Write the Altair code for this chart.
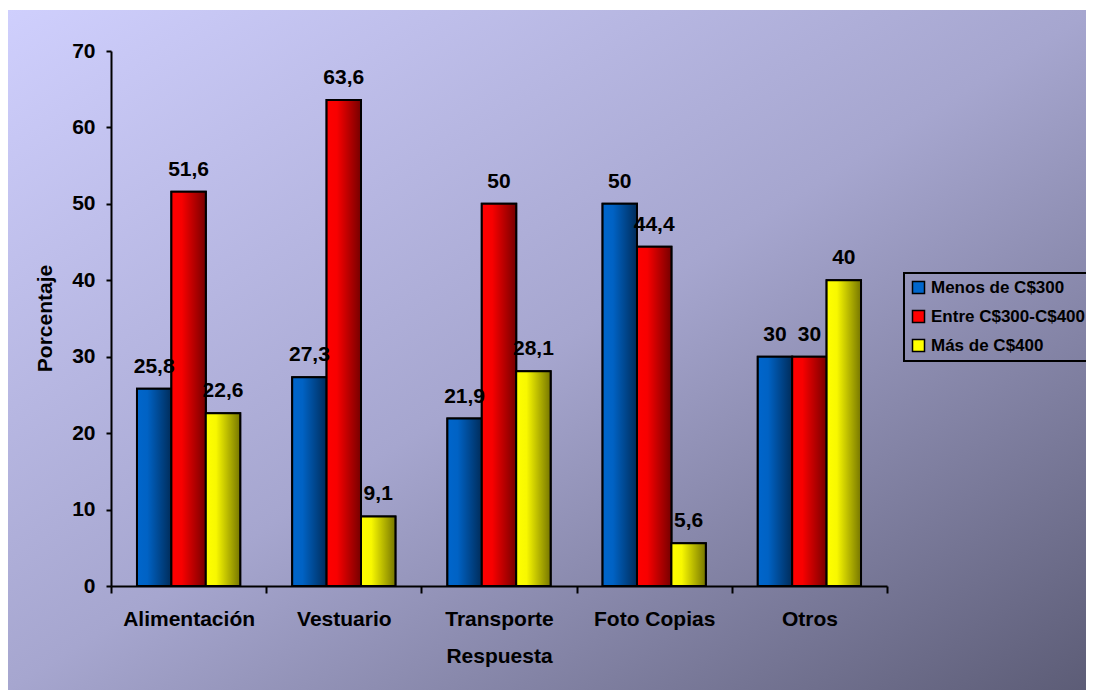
import altair as alt
import pandas as pd

categories = ["Alimentación", "Vestuario", "Transporte", "Foto Copias", "Otros"]
series = ["Menos de C$300", "Entre C$300-C$400", "Más de C$400"]
menos_300 = [25.8, 27.3, 21.9, 50, 30]
entre_300_400 = [51.6, 63.6, 50, 44.4, 30]
mas_400 = [22.6, 9.1, 28.1, 5.6, 40]
y_ticks = [0, 10, 20, 30, 40, 50, 60, 70]

solid_colors = ["#0066cc", "#ff0000", "#ffff00"]
gradients = [
    ("#0066cc", "#0062c4", "#002c5a"),
    ("#ff0000", "#f80000", "#760000"),
    ("#ffff00", "#f8f800", "#767600"),
]

rows = []
for s, vals in zip(series, [menos_300, entre_300_400, mas_400]):
    for c, v in zip(categories, vals):
        rows.append({"Respuesta": c, "Serie": s, "Porcentaje": v,
                     "label": f"{v:g}".replace(".", ",")})
df = pd.DataFrame(rows)

W, H = 776, 535
FONT = "Liberation Sans"

x_enc = alt.X("Respuesta:N", sort=categories,
              scale=alt.Scale(paddingInner=0, paddingOuter=0),
              axis=alt.Axis(title="Respuesta", labelAngle=0, tickBand="extent",
                            tickSize=7, labelPadding=32, labelBaseline="alphabetic",
                            titleBaseline="alphabetic", titleY=76, titlePadding=0,
                            zindex=2))
xo_enc = alt.XOffset("Serie:N", sort=series,
                     scale=alt.Scale(domain=series, paddingInner=0, paddingOuter=0.755))
y_enc = alt.Y("Porcentaje:Q",
              scale=alt.Scale(domain=[0, 70], nice=False),
              axis=alt.Axis(title="Porcentaje", values=y_ticks, tickSize=5, labelPadding=11,
                            titleAngle=-90, titleBaseline="alphabetic", titleX=-60, titleY=267,
                            titleAlign="center", zindex=2))

bg = alt.Chart(pd.DataFrame({"k": [0]})).mark_rect(
    fill=alt.LinearGradient(
        gradient="linear", x1=0, y1=0, x2=1, y2=1,
        stops=[alt.GradientStop(color="#cfcffd", offset=0),
               alt.GradientStop(color="#a6a6cf", offset=0.5),
               alt.GradientStop(color="#5c5c76", offset=1)]),
).encode(x=alt.value(-104), x2=alt.value(982), y=alt.value(-41), y2=alt.value(639))

base = alt.Chart(df).mark_bar(stroke="black", strokeWidth=2).encode(
    x=x_enc, xOffset=xo_enc, y=y_enc,
    color=alt.Color("Serie:N", sort=series,
                    scale=alt.Scale(domain=series, range=solid_colors),
                    legend=alt.Legend(title=None, orient="none", legendX=793, legendY=222,
                                      symbolType="square", symbolSize=144,
                                      symbolStrokeColor="black", symbolStrokeWidth=1.5,
                                      labelFont=FONT, labelFontSize=17, labelFontWeight="bold",
                                      labelColor="black", labelOffset=4, rowPadding=10,
                                      padding=6, strokeColor="black", zindex=2)),
)

grad_layers = []
for s, (c0, c1, c2) in zip(series, gradients):
    grad_layers.append(
        alt.Chart(df).transform_filter(alt.datum.Serie == s).mark_bar(
            stroke="black", strokeWidth=2,
            fill=alt.LinearGradient(
                gradient="linear", x1=0, y1=0, x2=1, y2=0,
                stops=[alt.GradientStop(color=c0, offset=0),
                       alt.GradientStop(color=c1, offset=0.3),
                       alt.GradientStop(color=c2, offset=1)]),
        ).encode(x=x_enc, xOffset=xo_enc, y=y_enc)
    )

text = alt.Chart(df).mark_text(
    font=FONT, fontSize=21, fontWeight="bold", color="black",
    baseline="alphabetic", dy=-16,
).encode(x=x_enc, xOffset=xo_enc, y=y_enc, text="label:N")

chart = alt.layer(bg, base, *grad_layers, text).properties(
    width=W, height=H,
    autosize=alt.AutoSizeParams(type="none"),
    padding={"left": 103, "top": 43, "right": 199, "bottom": 104},
).configure_view(stroke=None).configure_axis(
    labelFont=FONT, labelFontSize=21, labelFontWeight="bold", labelColor="black",
    titleFont=FONT, titleFontSize=21, titleFontWeight="bold", titleColor="black",
    domainColor="black", domainWidth=2, tickColor="black", tickWidth=2, grid=False,
).configure_legend(strokeWidth=2)

chart.save("out.html", embed_options={"renderer": "svg", "actions": False})
